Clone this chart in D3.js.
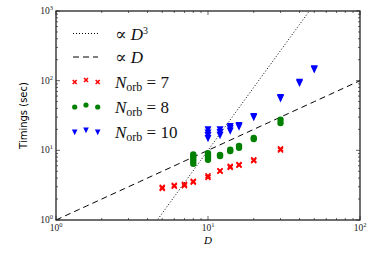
<!DOCTYPE html>
<html><head><meta charset="utf-8">
<script src="https://cdn.jsdelivr.net/npm/d3@7"></script>
<style>body{margin:0;background:#fff}</style>
</head><body>
<svg id="c" width="374" height="253"></svg>
<script>
// Data (D, timing in seconds)
const norb7D = [5,5,6,6,7,7,8,8,10,10,12,12,14,14,16,16,20,20,30,30];
const norb7T = [2.85,2.95,3.05,3.15,3.1,3.25,3.5,3.6,4.1,4.3,5.0,5.1,5.7,5.9,6.1,6.25,7.1,7.3,10.1,10.5];
const norb8D = [8,8,8,8,8,10,10,10,10,12,12,14,14,16,16,20,20,30,30];
const norb8T = [6.4,7.0,7.6,8.2,8.7,7.3,7.9,8.5,9.1,8.3,8.6,9.8,10.2,10.9,11.6,14.5,15.1,24.6,27.5];
const norb10D = [10,10,10,10,12,12,12,14,14,14,16,16,20,20,30,30,40,40,50,50];
const norb10T = [15.0,16.5,18.0,20.0,16.6,18.2,19.9,19.2,20.8,22.3,22.0,23.0,30.0,31.0,56,58,93,96,146,150];
const xTicks = [1,10,100];
const yTicks = [1,10,100,1000];
const xTickExp = ["0","1","2"];
const yTickExp = ["0","1","2","3"];

const svg = d3.select("#c");
const L = 56, R = 360, T = 11, B = 220;
const x = d3.scaleLog().domain([1,100]).range([L,R]);
const y = d3.scaleLog().domain([1,1000]).range([B,T]);

const g = svg.append("g");
svg.append("defs").append("clipPath").attr("id","clip").append("rect")
  .attr("x",L).attr("y",T).attr("width",R-L).attr("height",B-T);
const plot = g.append("g").attr("clip-path","url(#clip)");

// reference lines
const dVals = d3.range(0, 2.001, 0.05).map(e => Math.pow(10,e));
const line = d3.line().x(d=>x(d[0])).y(d=>y(d[1]));
plot.append("path").datum(dVals.map(d=>[d, d*d*d/100]).filter(p=>p[1]>0.5 && p[1]<2000))
  .attr("d", line).attr("fill","none").attr("stroke","#000").attr("stroke-width",1)
  .attr("stroke-dasharray","1,2");
plot.append("path").datum(dVals.map(d=>[d,d]))
  .attr("d", line).attr("fill","none").attr("stroke","#000").attr("stroke-width",1)
  .attr("stroke-dasharray","6,4");

// markers
const red = "#ff0000", green = "#008000", blue = "#0000ff";
function cross(sel, cx, cy, s){
  sel.append("path").attr("d",`M${cx-s},${cy-s}L${cx+s},${cy+s}M${cx-s},${cy+s}L${cx+s},${cy-s}`)
    .attr("stroke",red).attr("stroke-width",1.6).attr("fill","none");
}
function circ(sel, cx, cy, r){
  sel.append("circle").attr("cx",cx).attr("cy",cy).attr("r",r).attr("fill",green);
}
function tri(sel, cx, cy, s){
  sel.append("path").attr("d",`M${cx-s},${cy-s*0.9}L${cx+s},${cy-s*0.9}L${cx},${cy+s*1.2}Z`)
    .attr("fill",blue);
}
norb7D.forEach((d,i)=>cross(plot, x(d), y(norb7T[i]), 2.5));
norb8D.forEach((d,i)=>circ(plot, x(d), y(norb8T[i]), 3.2));
norb10D.forEach((d,i)=>tri(plot, x(d), y(norb10T[i]), 3.5));

// ticks (inside, all sides)
const minor = [];
for (let dec=0; dec<3; dec++) for (let k=2;k<10;k++) minor.push(Math.pow(10,dec)*k);
const tk = g.append("g").attr("stroke","#000").attr("stroke-width",0.6);
xTicks.forEach(v=>{
  tk.append("line").attr("x1",x(v)).attr("x2",x(v)).attr("y1",B).attr("y2",B-4);
  tk.append("line").attr("x1",x(v)).attr("x2",x(v)).attr("y1",T).attr("y2",T+4);
});
minor.filter(v=>v<100).forEach(v=>{
  tk.append("line").attr("x1",x(v)).attr("x2",x(v)).attr("y1",B).attr("y2",B-2);
  tk.append("line").attr("x1",x(v)).attr("x2",x(v)).attr("y1",T).attr("y2",T+2);
});
yTicks.forEach(v=>{
  tk.append("line").attr("y1",y(v)).attr("y2",y(v)).attr("x1",L).attr("x2",L+4);
  tk.append("line").attr("y1",y(v)).attr("y2",y(v)).attr("x1",R).attr("x2",R-4);
});
minor.forEach(v=>{
  tk.append("line").attr("y1",y(v)).attr("y2",y(v)).attr("x1",L).attr("x2",L+2);
  tk.append("line").attr("y1",y(v)).attr("y2",y(v)).attr("x1",R).attr("x2",R-2);
});

// frame
g.append("rect").attr("x",L).attr("y",T).attr("width",R-L).attr("height",B-T)
  .attr("fill","none").attr("stroke","#222").attr("stroke-width",1.3);

// tick labels
const serif = "'Liberation Serif','DejaVu Serif',serif";
xTicks.forEach((v,i)=>{
  const t = g.append("text").attr("x",x(v)).attr("y",B+11).attr("text-anchor","middle")
    .attr("font-family",serif).attr("font-size",9.5).attr("fill","#222");
  t.append("tspan").text("10");
  t.append("tspan").attr("dy",-4).attr("font-size",6.5).text(xTickExp[i]);
});
yTicks.forEach((v,i)=>{
  const t = g.append("text").attr("x",L-3).attr("y",y(v)+3).attr("text-anchor","end")
    .attr("font-family",serif).attr("font-size",9.5).attr("fill","#222");
  t.append("tspan").text("10");
  t.append("tspan").attr("dy",-4).attr("font-size",6.5).text(yTickExp[i]);
});

// axis labels
g.append("text").attr("x",(L+R)/2).attr("y",244).attr("text-anchor","middle")
  .attr("font-family",serif).attr("font-style","italic").attr("font-size",11).text("D");
g.append("text").attr("transform",`translate(27,${(T+B)/2}) rotate(-90)`)
  .attr("text-anchor","middle").attr("font-family","'DejaVu Sans',sans-serif")
  .attr("font-size",10).text("Timings (sec)");

// legend
const lg = g.append("g");
const lx0 = 73, lx1 = 98, tx = 115;
const rows = [33.5, 57, 81.5, 106.5, 131.5];
lg.append("line").attr("x1",lx0).attr("x2",lx1).attr("y1",rows[0]).attr("y2",rows[0])
  .attr("stroke","#000").attr("stroke-dasharray","1,2");
lg.append("line").attr("x1",lx0).attr("x2",lx1).attr("y1",rows[1]).attr("y2",rows[1])
  .attr("stroke","#000").attr("stroke-dasharray","6,4");
const mx = [74.7, 86, 97.7], mdy = [0.5,-1.5,0.5];
mx.forEach((m,i)=>cross(lg, m, rows[2]+mdy[i], 2));
mx.forEach((m,i)=>circ(lg, m, rows[3]+mdy[i], 2.6));
mx.forEach((m,i)=>tri(lg, m, rows[4]+mdy[i], 2.8));
const fs = 17;
function ltext(row){
  return lg.append("text").attr("x",tx).attr("y",row+6).attr("font-family",serif)
    .attr("font-size",fs).attr("fill","#111");
}
let t0 = ltext(rows[0]); t0.append("tspan").text("∝ ");
t0.append("tspan").attr("font-style","italic").text("D");
t0.append("tspan").attr("dy",-6).attr("font-size",10).text("3");
let t1 = ltext(rows[1]); t1.append("tspan").text("∝ ");
t1.append("tspan").attr("font-style","italic").text("D");
[["7",2],["8",3],["10",4]].forEach(([n,r])=>{
  const t = ltext(rows[r]);
  t.append("tspan").attr("font-style","italic").text("N");
  t.append("tspan").attr("dy",3).attr("font-size",12).text("orb");
  t.append("tspan").attr("dy",-3).text(" = " + n);
});
</script>
</body></html>
